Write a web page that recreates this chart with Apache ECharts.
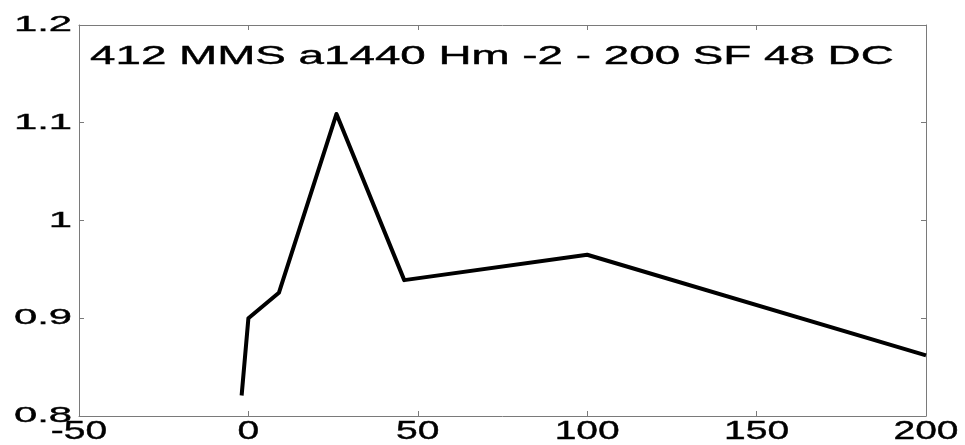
<!DOCTYPE html>
<html>
<head>
<meta charset="utf-8">
<script src="https://cdn.jsdelivr.net/npm/echarts@6/dist/echarts.min.js"></script>
<style>
  html, body { margin: 0; padding: 0; background: #fff; }
  #chart { width: 965px; height: 445px; }
</style>
</head>
<body>
<div id="chart"></div>
<script>
// values
const xValues = [-2, 0, 9, 26, 46, 100, 200]
const yValues = [0.821, 0.9, 0.926, 1.109, 0.939, 0.965, 0.862]
const xTicks = [-50, 0, 50, 100, 150, 200]
const xTickLabels = ['-50', '0', '50', '100', '150', '200']
const yTicks = [0.8, 0.9, 1.0, 1.1, 1.2]
const yTickLabels = ['0.8', '0.9', '1', '1.1', '1.2']
const titleText = '412 MMS a1440 Hm -2 - 200 SF 48 DC'

const axisColor = '#7a7a7a'
const font = '"Liberation Sans", Arial, sans-serif'

function boxAxis(position, min, max, interval) {
  return {
    type: 'value',
    position: position,
    min: min,
    max: max,
    interval: interval,
    axisLine: { show: true, onZero: false, lineStyle: { color: axisColor, width: 1 } },
    axisTick: { show: true, inside: true, length: 5, lineStyle: { color: axisColor } },
    axisLabel: { show: false },
    splitLine: { show: false }
  }
}

const chart = echarts.init(document.getElementById('chart'))
chart.setOption({
  animation: false,
  backgroundColor: '#fff',
  grid: { left: 79, right: 39, top: 25, bottom: 29 },
  xAxis: [boxAxis('bottom', -50, 200, 50), boxAxis('top', -50, 200, 50)],
  yAxis: [boxAxis('left', 0.8, 1.2, 0.1), boxAxis('right', 0.8, 1.2, 0.1)],
  series: [
    {
      type: 'line',
      xAxisIndex: 0,
      yAxisIndex: 0,
      symbol: 'none',
      lineStyle: { color: '#000', width: 4, join: 'round' },
      data: xValues.map((x, i) => [x, yValues[i]])
    }
  ]
})

// the picture is stretched sideways, so the texts are drawn with scaleX
// a thin stroke makes them as heavy as in the original
function label(text, x, y, size, scaleX, align) {
  return {
    type: 'text', x: x, y: y, scaleX: scaleX,
    style: {
      text: text, font: size + 'px ' + font, fill: '#000',
      stroke: '#000', lineWidth: 0.4,
      textAlign: align, textVerticalAlign: 'middle'
    }
  }
}

const graphics = []
yTicks.forEach((v, i) => {
  const p = chart.convertToPixel({ xAxisIndex: 0, yAxisIndex: 0 }, [-50, v])
  graphics.push(label(yTickLabels[i], p[0] - 7, p[1], 22, 1.9, 'right'))
})
xTicks.forEach((v, i) => {
  const p = chart.convertToPixel({ xAxisIndex: 0, yAxisIndex: 0 }, [v, 0.8])
  graphics.push(label(xTickLabels[i], p[0], p[1] + 16, 26, 1.5, 'center'))
})
graphics.push(label(titleText, 90, 56.5, 26, 1.76, 'left'))
chart.setOption({ graphic: graphics })
</script>
</body>
</html>
